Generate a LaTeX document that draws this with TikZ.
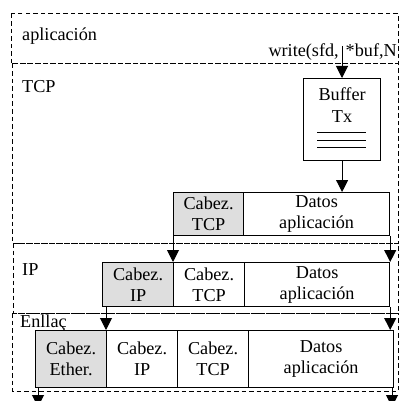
\documentclass[tikz,border=0pt]{standalone}
\usepackage{fontspec}
\setmainfont{Liberation Serif}
\usetikzlibrary{arrows.meta}
\begin{document}
\begin{tikzpicture}[x=1pt,y=-1pt,
  layer/.style={draw, dash pattern=on 4.5pt off 3pt, line width=1pt},
  cell/.style={draw, line width=1.2pt, inner sep=0pt, align=center, anchor=north west,
    font=\fontsize{18.2}{21}\selectfont},
  hdr/.style={cell, fill=black!13},
  arr/.style={-{Triangle[length=12pt,width=12pt]}, line width=1pt},
  lbl/.style={font=\fontsize{18.2}{21}\selectfont, inner sep=0pt}]
\useasboundingbox (0,0) rectangle (399,401);
\clip (0,0) rectangle (399,401);
% layers
\draw[layer] (11,14) rectangle (398,64);
\draw[layer] (12,64) rectangle (398,243);
\draw[layer] (13,243) rectangle (398,313);
\draw[layer] (12,313) rectangle (398,391);
% labels
\node[lbl, anchor=base west] (lapp) at (22,41) {aplicación};
\node[lbl, anchor=base east] (lwrite) at (397,57) {write(sfd,\hspace{7pt}*buf,N};
\node[lbl, anchor=base west] (ltcp) at (22,93) {TCP};
\node[lbl, anchor=base west] (lip) at (22,275) {IP};
\node[lbl, anchor=base west] (lenl) at (20,327) {Enllaç};
% buffer
\node[draw, line width=1.2pt, minimum width=77pt, minimum height=82pt, inner sep=0pt, anchor=north west] (buf) at (303,78) {};
\node[lbl, align=center, anchor=north, font=\fontsize{18.2}{22}\selectfont] (buftxt) at ([yshift=-9pt]buf.north) {Buffer\\Tx};
\draw[line width=1pt] (317,132) -- (366,132) (317,140) -- (366,140) (317,147) -- (366,147);
% TCP segment
\node[hdr, minimum width=70pt, minimum height=43pt] (th) at (173,192) {Cabez.\\TCP};
\node[cell, minimum width=146pt, minimum height=43pt] (td) at (243,192) {Datos\\aplicación};
% IP segment
\node[hdr, minimum width=71pt, minimum height=44pt] (ih) at (102,262) {Cabez.\\IP};
\node[cell, minimum width=71pt, minimum height=44pt] (it) at (173,262) {Cabez.\\TCP};
\node[cell, minimum width=145pt, minimum height=44pt] (id) at (244,262) {Datos\\aplicación};
% link segment
\node[hdr, minimum width=71pt, minimum height=57pt] (eh) at (35,330) {Cabez.\\Ether.};
\node[cell, minimum width=71pt, minimum height=57pt] (ei) at (106,330) {Cabez.\\IP};
\node[cell, minimum width=71pt, minimum height=57pt] (et) at (177,330) {Cabez.\\TCP};
\node[cell, minimum width=145pt, minimum height=57pt] (ed) at (248,330) {Datos\\aplicación};
% arrows
\coordinate (wtop) at (342,46);
\draw[arr] (wtop) -- (wtop |- buf.north);
\draw[arr] (buf.south) -- (buf.south |- td.north);
\draw[arr] (th.south west) -- (it.north west);
\draw[arr] (td.south east) -- (id.north east);
\draw[arr] (ei.north west |- ih.south) -- (ei.north west);
\draw[arr] (id.south east) -- (id.south east |- ed.north);
\coordinate (bl) at (38,407);
\coordinate (br) at (392,407);
\draw[arr] (bl |- eh.south) -- (bl);
\draw[arr] (br |- ed.south) -- (br);
\end{tikzpicture}
\end{document}
